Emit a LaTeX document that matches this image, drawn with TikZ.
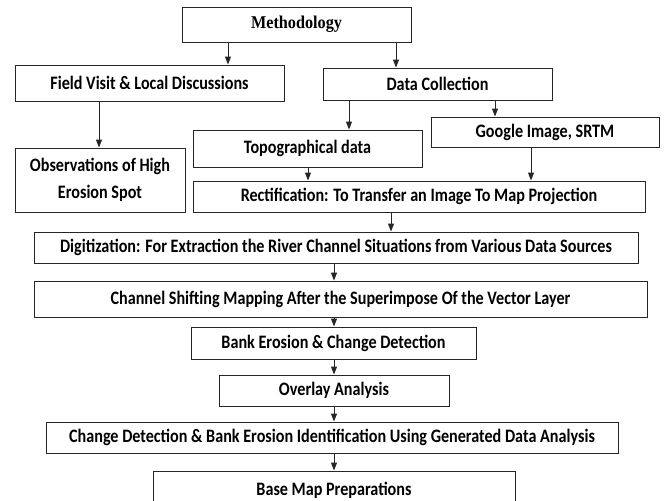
\documentclass[tikz,border=0pt]{standalone}
\usepackage{fontspec}
\usetikzlibrary{arrows.meta}
\newfontfamily\boxfont{Carlito}[FakeStretch=0.85]
\newfontfamily\methfont{Liberation Serif}[FakeStretch=0.9]
\tikzset{
  box/.style={draw=black!85, line width=1pt, inner sep=0pt, align=center,
    font=\boxfont\bfseries\fontsize{19}{27}\selectfont, text=black},
  arr/.style={draw=black!85, line width=1pt, -{Triangle[width=6pt,length=8pt]}}
}
\begin{document}
\begin{tikzpicture}[x=1pt,y=-1pt]
\useasboundingbox (0,0) rectangle (665,501);
\clip (0,0) rectangle (665,501);
\node[box, minimum width=229, minimum height=35, font=\methfont\bfseries\fontsize{18}{20}\selectfont] (meth) at (296.5,24.5) {Methodology};
\node[box, minimum width=269, minimum height=36] (field) at (149.5,83) {Field Visit \& Local Discussions};
\node[box, minimum width=229, minimum height=32] (data) at (437.5,84) {Data Collection};
\node[box, minimum width=229, minimum height=37] (topo) at (307.5,148.5) {Topographical data};
\node[box, minimum width=228, minimum height=30] (google) at (545,132) {Google Image, SRTM};
\node[box, minimum width=170, minimum height=64] (obs) at (100,180) {Observations of High\\Erosion Spot};
\node[box, minimum width=452, minimum height=31] (rect) at (419,196.5) {Rectification: To Transfer an Image To Map Projection};
\node[box, minimum width=604, minimum height=31] (digit) at (336,247.5) {Digitization: For Extraction the River Channel Situations from Various Data Sources};
\node[box, minimum width=613, minimum height=36] (chan) at (340.5,299) {Channel Shifting Mapping After the Superimpose Of the Vector Layer};
\node[box, minimum width=285, minimum height=32] (bank) at (333.5,343) {Bank Erosion \& Change Detection};
\node[box, minimum width=230, minimum height=31] (over) at (334,390.5) {Overlay Analysis};
\node[box, minimum width=572, minimum height=31] (change) at (332,437.5) {Change Detection \& Bank Erosion Identification Using Generated Data Analysis};
\node[box, minimum width=362, minimum height=38] (base) at (334,490) {Base Map Preparations};
\draw[arr] (228,0 |- meth.south) -- (228,0 |- field.north);
\draw[arr] (396,0 |- meth.south) -- (396,0 |- data.north);
\draw[arr] (99,0 |- field.south) -- (99,0 |- obs.north);
\draw[arr] (349,0 |- data.south) -- (349,0 |- topo.north);
\draw[arr] (495,0 |- data.south) -- (495,0 |- google.north);
\draw[arr] (308,0 |- topo.south) -- (308,0 |- rect.north);
\draw[arr] (531,0 |- google.south) -- (531,0 |- rect.north);
\draw[arr] (391,0 |- rect.south) -- (391,0 |- digit.north);
\draw[arr] (334,0 |- digit.south) -- (334,0 |- chan.north);
\draw[arr] (334,0 |- chan.south) -- (334,0 |- bank.north);
\draw[arr] (334,0 |- bank.south) -- (334,0 |- over.north);
\draw[arr] (334,0 |- over.south) -- (334,0 |- change.north);
\draw[arr] (334,0 |- change.south) -- (334,0 |- base.north);
\end{tikzpicture}
\end{document}
